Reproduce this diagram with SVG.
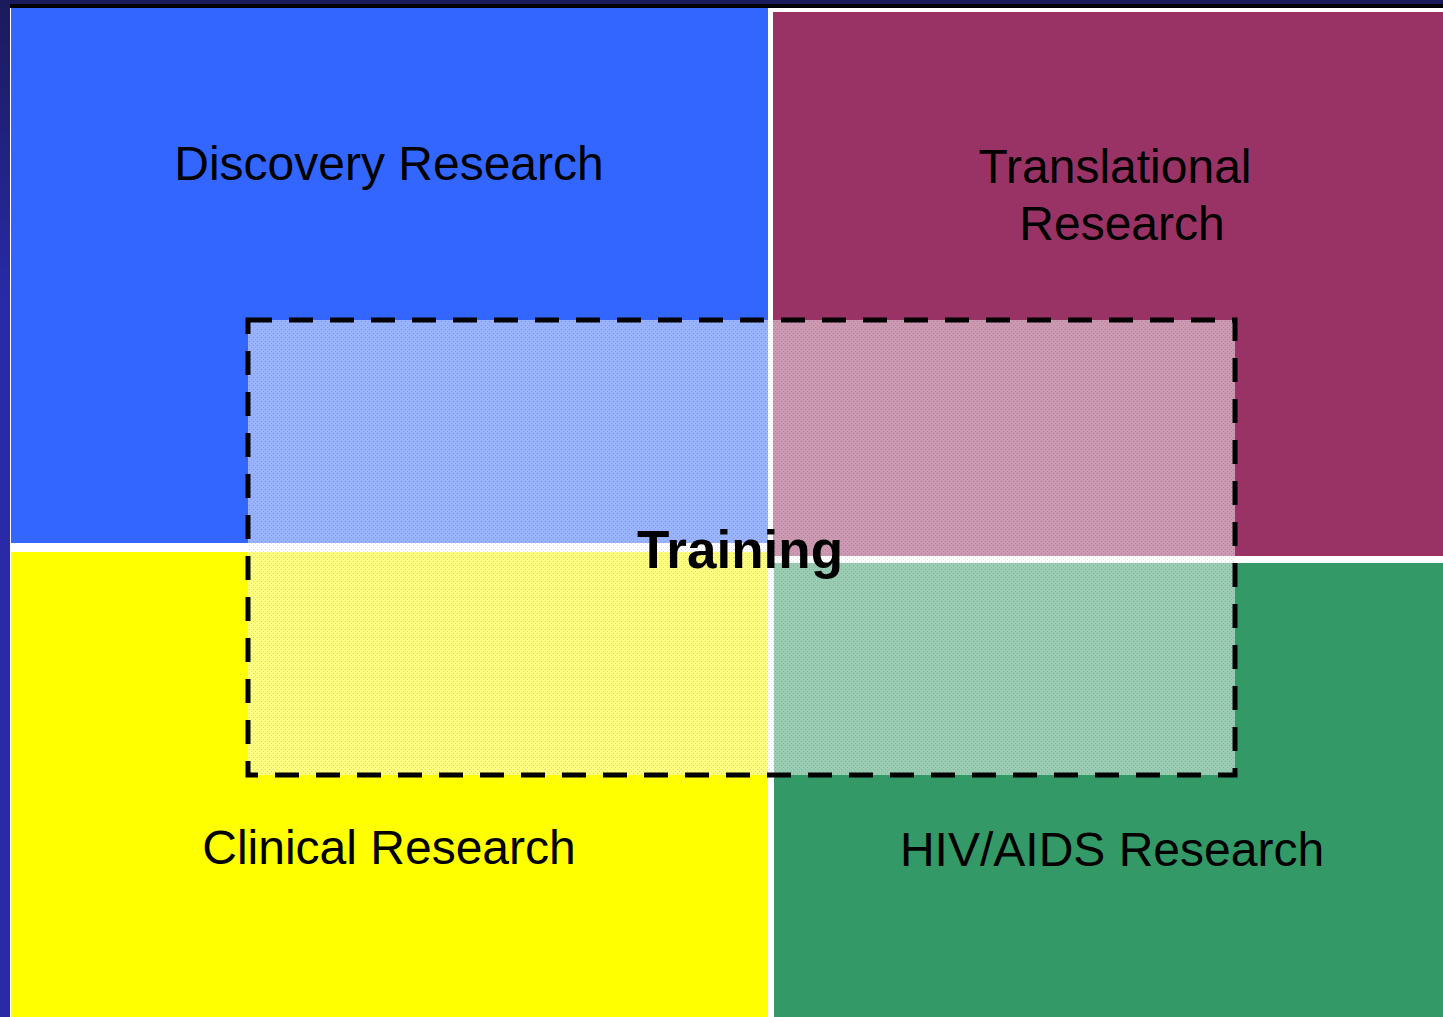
<svg xmlns="http://www.w3.org/2000/svg" width="1443" height="1017" viewBox="0 0 1443 1017">
  <style>
    .lbl { font-family: "Liberation Sans", Arial, sans-serif; font-size: 48px; fill: #000; text-anchor: middle; }
    .bold { font-weight: bold; font-size: 53px; }
  </style>
  <defs>
    <linearGradient id="side" x1="0" y1="0" x2="0" y2="1">
      <stop offset="0" stop-color="#1a1a5c"/>
      <stop offset="0.3" stop-color="#2a2aa8"/>
      <stop offset="1" stop-color="#2a2aa8"/>
    </linearGradient>
    <pattern id="dots" width="4" height="4" patternUnits="userSpaceOnUse">
      <rect width="4" height="4" fill="#ffffff" fill-opacity="0.5"/>
      <rect x="1" y="1" width="1" height="1" fill="#000000" fill-opacity="0.15"/>
      <rect x="3" y="3" width="1" height="1" fill="#000000" fill-opacity="0.1"/>
    </pattern>
  </defs>
  <rect x="0" y="0" width="1443" height="1017" fill="url(#side)"/>
  <rect x="0" y="0" width="1443" height="4" fill="#1a1a5c"/>
  <rect x="10" y="4" width="1433" height="4" fill="#000000"/>
  <rect x="10" y="8" width="1433" height="1009" fill="#ffffff"/>

  <g id="discovery">
    <rect x="11" y="8" width="757" height="535" fill="#3366ff"/>
    <text class="lbl" x="389" y="180">Discovery Research</text>
  </g>
  <g id="translational">
    <rect x="773" y="12" width="670" height="544" fill="#993366"/>
    <text class="lbl" x="1115" y="183">Translational</text>
    <text class="lbl" x="1122" y="240">Research</text>
  </g>
  <g id="clinical">
    <rect x="11" y="552" width="757" height="465" fill="#ffff00"/>
    <text class="lbl" x="389" y="864">Clinical Research</text>
  </g>
  <g id="hiv">
    <rect x="774" y="563" width="669" height="454" fill="#339966"/>
    <text class="lbl" x="1112" y="866">HIV/AIDS Research</text>
  </g>
  <g id="training">
    <rect x="248" y="320" width="987" height="455" fill="url(#dots)" stroke="#000" stroke-width="5" stroke-dasharray="24 17"/>
    <text class="lbl bold" x="740" y="568">Training</text>
  </g>
</svg>
